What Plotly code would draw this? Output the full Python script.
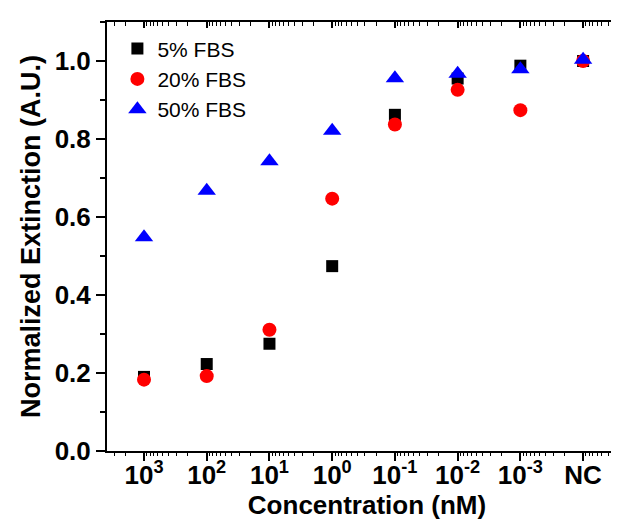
import plotly.graph_objects as go

# concentrations in nM; NC (no-target control) drawn at 1e-4
conc = [1e3, 1e2, 1e1, 1e0, 1e-1, 1e-2, 1e-3, 1e-4]
tick_text = ["10<sup>3</sup>", "10<sup>2</sup>", "10<sup>1</sup>", "10<sup>0</sup>",
             "10<sup>-1</sup>", "10<sup>-2</sup>", "10<sup>-3</sup>", "NC"]

fbs5 = [0.19, 0.223, 0.275, 0.474, 0.862, 0.955, 0.988, 1.0]
fbs20 = [0.183, 0.192, 0.311, 0.647, 0.837, 0.926, 0.874, 1.0]
fbs50 = [0.548, 0.667, 0.743, 0.821, 0.956, 0.967, 0.979, 1.003]

FONT = "Liberation Sans, Arial, sans-serif"

xrange = [3.59, -4.70]
yrange = [0, 1.1]

# log minor ticks 2..9 x 10^n, drawn on extra tick-only axes
minor_vals = [m * 10.0 ** e for e in range(-5, 4) for m in range(2, 10)]

fig = go.Figure()
fig.add_trace(go.Scatter(x=conc, y=fbs5, mode="markers", name="5% FBS",
                         marker=dict(symbol="square", size=12, color="black")))
fig.add_trace(go.Scatter(x=conc, y=fbs20, mode="markers", name="20% FBS",
                         marker=dict(symbol="circle", size=14, color="#ff0000")))
fig.add_trace(go.Scatter(x=conc, y=fbs50, mode="markers", name="50% FBS",
                         marker=dict(symbol="triangle-up", size=16, color="#0000ff")))
# empty traces so the tick-only overlay axes get drawn
for xa, ya in [("x2", "y2"), ("x3", "y3"), ("x4", "y")]:
    fig.add_trace(go.Scatter(x=[], y=[], xaxis=xa, yaxis=ya, showlegend=False,
                             hoverinfo="skip"))

plain = dict(showgrid=False, zeroline=False, showticklabels=False, showline=False,
             tickcolor="black")

fig.update_layout(
    width=619, height=520,
    margin=dict(l=99, r=0, t=14, b=77),
    plot_bgcolor="white", paper_bgcolor="white",
    font=dict(family=FONT, color="black"),
    showlegend=True,
    legend=dict(x=0.02, y=0.985, xanchor="left", yanchor="top",
                font=dict(size=21, family=FONT), bgcolor="rgba(0,0,0,0)",
                tracegroupgap=0, itemwidth=30),
    xaxis=dict(
        type="log", range=xrange, showgrid=False, zeroline=False,
        showline=True, linecolor="black", linewidth=2,
        tickmode="array", tickvals=conc, ticktext=tick_text,
        ticks="outside", ticklen=8, tickwidth=1.5, tickcolor="black",
        ticklabelstandoff=-8,
        tickfont=dict(size=26, family=FONT, weight="bold"),
        title=dict(text="Concentration (nM)", standoff=0,
                   font=dict(size=26, family=FONT, weight="bold")),
    ),
    xaxis2=dict(
        type="log", range=xrange, overlaying="x", side="top", anchor="y",
        showgrid=False, zeroline=False, showline=True, linecolor="black", linewidth=2,
        tickmode="array", tickvals=conc, showticklabels=False,
        ticks="inside", ticklen=6, tickwidth=1.5, tickcolor="black",
    ),
    xaxis3=dict(plain, type="log", range=xrange, overlaying="x", side="bottom",
                anchor="y", tickmode="array", tickvals=minor_vals,
                ticks="outside", ticklen=4, tickwidth=1),
    xaxis4=dict(plain, type="log", range=xrange, overlaying="x", side="top",
                anchor="y", tickmode="array", tickvals=minor_vals,
                ticks="inside", ticklen=4, tickwidth=1),
    yaxis=dict(
        range=yrange, showgrid=False, zeroline=False,
        showline=True, linecolor="black", linewidth=2,
        tickmode="linear", tick0=0, dtick=0.2, tickformat=".1f",
        ticks="outside", ticklen=9, tickwidth=1.5, tickcolor="black",
        tickfont=dict(size=26, family=FONT, weight="bold"),
        title=dict(text="Normalized Extinction (A.U.)", standoff=6,
                   font=dict(size=27, family=FONT, weight="bold")),
    ),
    yaxis2=dict(plain, range=yrange, overlaying="y", side="right", anchor="x",
                tickmode="linear", tick0=0, dtick=0.2,
                ticks="inside", ticklen=4, tickwidth=1.5),
    yaxis3=dict(plain, range=yrange, overlaying="y", side="left", anchor="x",
                tickmode="linear", tick0=0, dtick=0.1,
                ticks="outside", ticklen=6, tickwidth=1.5),
)

fig.write_html("out.html")
